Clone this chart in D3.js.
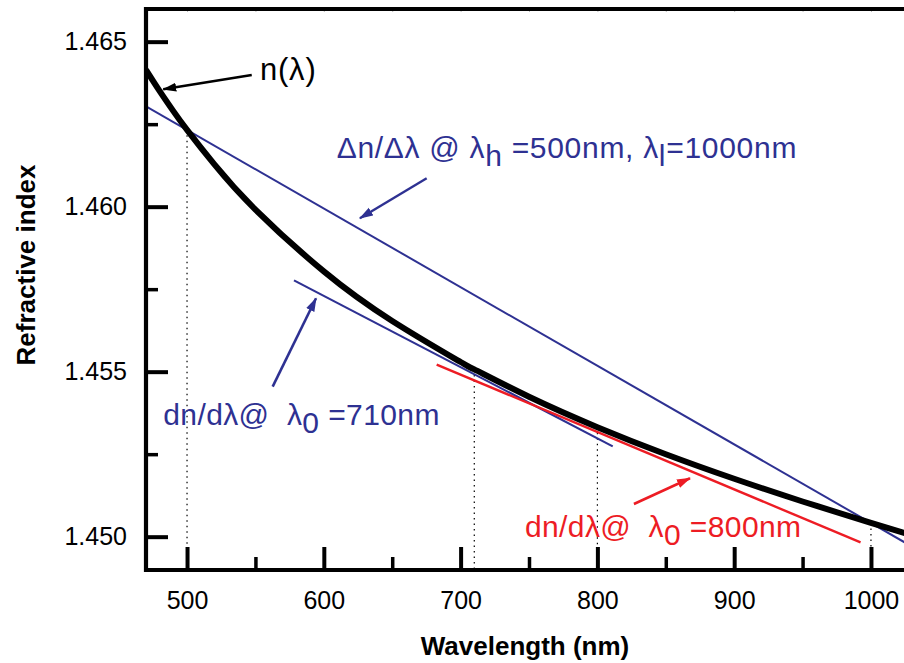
<!DOCTYPE html>
<html>
<head>
<meta charset="utf-8">
<script src="https://cdn.jsdelivr.net/npm/d3@7"></script>
<style>
  html, body { margin: 0; padding: 0; background: #fff; }
  svg { display: block; font-family: "Liberation Sans", Arial, Helvetica, sans-serif; }
</style>
</head>
<body>
<svg id="chart" width="904" height="663"></svg>
<script>
// ---- data ----
const wavelengths = [470, 480, 490, 500, 520, 550, 600, 650, 700, 710, 750, 800, 850, 900, 950, 1000, 1030];
const refractiveIndex = [1.464146, 1.463502, 1.462896, 1.462327, 1.461280, 1.459911, 1.458038, 1.456536,
  1.455292, 1.455068, 1.454239, 1.453318, 1.452498, 1.451755, 1.451066, 1.450417, 1.450040];

// secant line through n(500) and n(1000)
const secantLine = [[470, 1.46304], [1030, 1.44970]];
// tangent lines
const tangent710 = [[578.2, 1.457767], [811.2, 1.452736]];
const tangent800 = [[682.5, 1.455212], [992.4, 1.449827]];
// dotted guide wavelengths with their n values
const guideWavelengths = [500, 710, 800, 1000];
const guideIndex = [1.462327, 1.455068, 1.453318, 1.450417];

const xMajorTicks = [500, 600, 700, 800, 900, 1000];
const xMinorTicks = [550, 650, 750, 850, 950];
const yMajorTicks = [1.450, 1.455, 1.460, 1.465];
const yMinorTicks = [1.4525, 1.4575, 1.4625];
const topTicks = [500, 550, 600, 650, 700, 750, 800, 850, 900, 950, 1000];

// annotation arrows: [from, to] in data units
const arrowN = [[547.3, 1.463991], [482.6, 1.463558]];
const arrowSecant = [[675.2, 1.460861], [626.4, 1.459648]];
const arrow710 = [[562.6, 1.454545], [594.3, 1.457224]];
const arrow800 = [[826.7, 1.450991], [867.7, 1.451770]];
// annotation text anchors (data units)
const labelN = [553.3, 1.463839];
const labelSecant = [609.4, 1.461467];
const label710 = [482.6, 1.453385];
const label800 = [747.0, 1.449991];

const BLUE = "#2e3192", RED = "#ed1c24";

// ---- scales ----
const svg = d3.select("#chart");
const x = d3.scaleLinear().domain([470, 1030]).range([146, 912]);
const y = d3.scaleLinear().domain([1.44899, 1.46602]).range([570, 8]);

// markers
const defs = svg.append("defs");
function marker(id, color) {
  defs.append("marker").attr("id", id).attr("markerUnits", "userSpaceOnUse")
    .attr("viewBox", "0 -5 14 10").attr("refX", 13).attr("refY", 0)
    .attr("markerWidth", 14).attr("markerHeight", 10).attr("orient", "auto")
    .append("path").attr("d", "M0,-4.5L14,0L0,4.5Z").attr("fill", color);
}
marker("ah-black", "#000");
marker("ah-blue", BLUE);
marker("ah-red", RED);

defs.append("clipPath").attr("id", "plotclip").append("rect")
  .attr("x", x(470)).attr("y", y.range()[1]).attr("width", x(1030) - x(470)).attr("height", y.range()[0] - y.range()[1]);

const plot = svg.append("g").attr("clip-path", "url(#plotclip)");

// dotted guides
plot.selectAll("line.guide").data(guideWavelengths).enter().append("line")
  .attr("x1", d => x(d)).attr("x2", d => x(d))
  .attr("y1", (d, i) => y(guideIndex[i])).attr("y2", y.range()[0])
  .attr("stroke", "#000").attr("stroke-width", 1.2).attr("stroke-dasharray", "1.5,4");

const line = d3.line().x(d => x(d[0])).y(d => y(d[1]));

// secant & tangents
plot.append("path").attr("d", line(secantLine)).attr("stroke", BLUE).attr("stroke-width", 2).attr("fill", "none");
plot.append("path").attr("d", line(tangent710)).attr("stroke", BLUE).attr("stroke-width", 2.2).attr("fill", "none");
plot.append("path").attr("d", line(tangent800)).attr("stroke", RED).attr("stroke-width", 2.4).attr("fill", "none");

// main curve
const curvePts = wavelengths.map((w, i) => [w, refractiveIndex[i]]);
plot.append("path").attr("d", d3.line().x(d => x(d[0])).y(d => y(d[1])).curve(d3.curveNatural)(curvePts))
  .attr("stroke", "#000").attr("stroke-width", 6).attr("fill", "none");

// ---- axes ----
const fs = 25;
const xAxis = d3.axisBottom(x).tickValues(xMajorTicks).tickSize(-23).tickSizeOuter(0).tickPadding(21).tickFormat(d3.format("d"));
const gx = svg.append("g").attr("transform", `translate(0,${y.range()[0]})`).call(xAxis);
gx.select(".domain").remove();
gx.selectAll(".tick line").attr("stroke", "#000").attr("stroke-width", 4);
gx.selectAll(".tick text").attr("font-size", fs).attr("fill", "#000").attr("font-family", null);

const xAxisMinor = d3.axisBottom(x).tickValues(xMinorTicks).tickSize(-13).tickSizeOuter(0).tickFormat("");
const gxm = svg.append("g").attr("transform", `translate(0,${y.range()[0]})`).call(xAxisMinor);
gxm.select(".domain").remove();
gxm.selectAll(".tick line").attr("stroke", "#000").attr("stroke-width", 3.5);

const yAxis = d3.axisLeft(y).tickValues(yMajorTicks).tickSize(-22).tickSizeOuter(0).tickPadding(19).tickFormat(d3.format(".3f"));
const gy = svg.append("g").attr("transform", `translate(${x(470)},0)`).call(yAxis);
gy.select(".domain").remove();
gy.selectAll(".tick line").attr("stroke", "#000").attr("stroke-width", 4);
gy.selectAll(".tick text").attr("font-size", fs).attr("fill", "#000").attr("font-family", null);

const yAxisMinor = d3.axisLeft(y).tickValues(yMinorTicks).tickSize(-12).tickSizeOuter(0).tickFormat("");
const gym = svg.append("g").attr("transform", `translate(${x(470)},0)`).call(yAxisMinor);
gym.select(".domain").remove();
gym.selectAll(".tick line").attr("stroke", "#000").attr("stroke-width", 3.5);

// faint top ticks
const xAxisTop = d3.axisTop(x).tickValues(topTicks).tickSize(-3).tickSizeOuter(0).tickFormat("");
const gt = svg.append("g").attr("transform", `translate(0,${y.range()[1] + 1})`).call(xAxisTop);
gt.select(".domain").remove();
gt.selectAll(".tick line").attr("stroke", "#bbb").attr("stroke-width", 1);

// frame lines
const X0 = x(470), X1 = x(1030), Y0 = y.range()[0], Y1 = y.range()[1];
svg.append("line").attr("x1", X0).attr("x2", X0).attr("y1", Y1 - 1).attr("y2", Y0 + 2).attr("stroke", "#000").attr("stroke-width", 4.2);
svg.append("line").attr("x1", X0 - 2).attr("x2", X1).attr("y1", Y0).attr("y2", Y0).attr("stroke", "#000").attr("stroke-width", 4);
svg.append("line").attr("x1", X0 - 2).attr("x2", X1).attr("y1", Y1 + 1).attr("y2", Y1 + 1).attr("stroke", "#000").attr("stroke-width", 4.2);

// axis titles
svg.append("text").attr("x", (x(470) + 904) / 2).attr("y", 655).attr("text-anchor", "middle")
  .attr("font-size", 26).attr("font-weight", "bold").text("Wavelength (nm)");
svg.append("text").attr("transform", "translate(35,265) rotate(-90)").attr("text-anchor", "middle")
  .attr("font-size", 26).attr("font-weight", "bold").text("Refractive index");

// ---- annotations ----
function arrow(pts, id, color, w) {
  svg.append("line").attr("x1", x(pts[0][0])).attr("y1", y(pts[0][1]))
    .attr("x2", x(pts[1][0])).attr("y2", y(pts[1][1]))
    .attr("stroke", color).attr("stroke-width", w).attr("marker-end", `url(#${id})`);
}
arrow(arrowN, "ah-black", "#000", 2.6);
arrow(arrowSecant, "ah-blue", BLUE, 2.4);
arrow(arrow710, "ah-blue", BLUE, 2.6);
arrow(arrow800, "ah-red", RED, 2.6);

const afs = 30, sub = 8;
svg.append("text").attr("x", x(labelN[0])).attr("y", y(labelN[1])).attr("font-size", 31)
  .attr("letter-spacing", 0.8).attr("fill", "#000").text("n(λ)");

const tS = svg.append("text").attr("x", x(labelSecant[0])).attr("y", y(labelSecant[1])).attr("font-size", afs)
  .attr("letter-spacing", 0.7).attr("fill", BLUE);
tS.append("tspan").text("Δn/Δλ @ λ");
tS.append("tspan").attr("dy", sub).text("h");
tS.append("tspan").attr("dy", -sub).text(" =500nm, λ");
tS.append("tspan").attr("dy", sub).text("l");
tS.append("tspan").attr("dy", -sub).text("=1000nm");

function tangentLabel(pos, color, val) {
  const t = svg.append("text").attr("x", x(pos[0])).attr("y", y(pos[1])).attr("font-size", afs).attr("fill", color)
    .attr("letter-spacing", 0.4).attr("xml:space", "preserve").style("white-space", "pre");
  t.append("tspan").text("dn/dλ@  λ");
  t.append("tspan").attr("dy", sub).text("0");
  t.append("tspan").attr("dy", -sub).text(" =" + val + "nm");
}
tangentLabel(label710, BLUE, 710);
tangentLabel(label800, RED, 800);
</script>
</body>
</html>
